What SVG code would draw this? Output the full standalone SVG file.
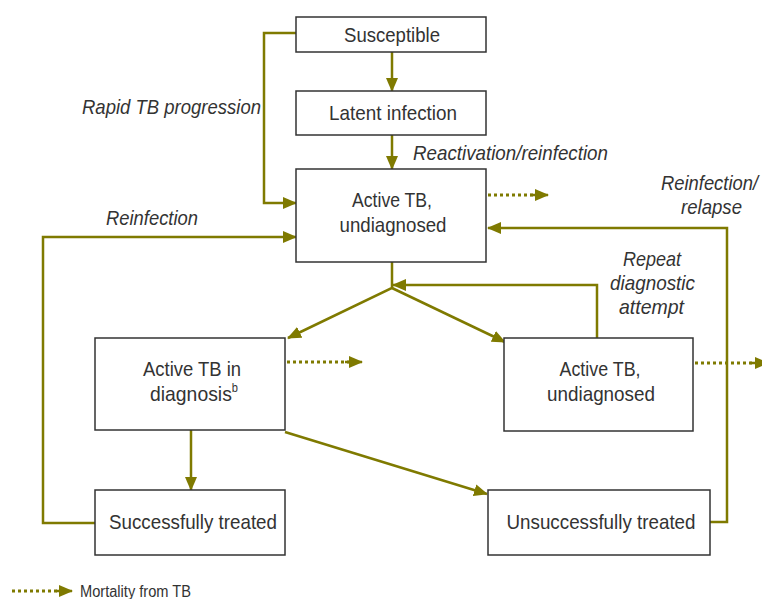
<svg xmlns="http://www.w3.org/2000/svg" width="762" height="599" viewBox="0 0 762 599">
<style>
.box{fill:#fff;stroke:#333;stroke-width:1.5}
.t{font-family:"Liberation Sans",Arial,sans-serif;font-size:21px;fill:#333;text-anchor:middle}
.lbl{font-family:"Liberation Sans",Arial,sans-serif;font-size:21px;fill:#333;font-style:italic}
.c{fill:none;stroke:#7f7a00;stroke-width:2.5}
.d{fill:none;stroke:#7f7a00;stroke-width:3;stroke-dasharray:3 3}
</style>
<defs>
<marker id="a" viewBox="0 0 14 12" refX="13" refY="6" markerWidth="14" markerHeight="12" markerUnits="userSpaceOnUse" orient="auto"><path d="M0,0 L14,6 L0,12 Z" fill="#7f7a00"/></marker>
</defs>
<g id="connectors">
<path class="c" d="M392,52 V91" marker-end="url(#a)"/>
<path class="c" d="M392,135 V169" marker-end="url(#a)"/>
<path class="c" d="M296,33 H264 V203 H296" marker-end="url(#a)"/>
<path class="c" d="M95,523 H43 V237 H296" marker-end="url(#a)"/>
<path class="c" d="M710,522 H727 V228 H488" marker-end="url(#a)"/>
<path class="d" d="M488,195 H535"/><path class="c" d="M530,195 H548" marker-end="url(#a)"/>
<path class="d" d="M287,362 H350"/><path class="c" d="M345,362 H362" marker-end="url(#a)"/>
<path class="d" d="M695,363 H755"/><path class="c" d="M750,363 H768" marker-end="url(#a)"/>
<path class="c" d="M392,262 V288 L288,338" marker-end="url(#a)"/>
<path class="c" d="M392,288 L505,342" marker-end="url(#a)"/>
<path class="c" d="M597,338 V285 H393" marker-end="url(#a)"/>
<path class="c" d="M191,430 V490" marker-end="url(#a)"/>
<path class="c" d="M285,432 L487,494" marker-end="url(#a)"/>
</g>
<g id="susceptible"><rect class="box" x="296" y="17" width="190" height="35"/><text class="t" x="392" y="42" textLength="96" lengthAdjust="spacingAndGlyphs">Susceptible</text></g>
<g id="latent"><rect class="box" x="296" y="91" width="190" height="44"/><text class="t" x="393" y="120" textLength="128" lengthAdjust="spacingAndGlyphs">Latent infection</text></g>
<g id="active-top"><rect class="box" x="296" y="169" width="190" height="93"/><text class="t" x="392" y="207" textLength="80" lengthAdjust="spacingAndGlyphs">Active TB,</text><text class="t" x="393" y="232" textLength="107" lengthAdjust="spacingAndGlyphs">undiagnosed</text></g>
<g id="active-diag"><rect class="box" x="95" y="338" width="190" height="92"/><text class="t" x="192" y="376" textLength="98" lengthAdjust="spacingAndGlyphs">Active TB in</text><text class="t" x="150" y="401" style="text-anchor:start" textLength="88" lengthAdjust="spacingAndGlyphs">diagnosis<tspan font-size="12" dy="-9">b</tspan></text></g>
<g id="active-right"><rect class="box" x="504" y="338" width="189" height="93"/><text class="t" x="600" y="376" textLength="81" lengthAdjust="spacingAndGlyphs">Active TB,</text><text class="t" x="601" y="401" textLength="108" lengthAdjust="spacingAndGlyphs">undiagnosed</text></g>
<g id="success"><rect class="box" x="95" y="490" width="190" height="65"/><text class="t" x="193" y="529" textLength="168" lengthAdjust="spacingAndGlyphs">Successfully treated</text></g>
<g id="unsuccess"><rect class="box" x="488" y="490" width="222" height="65"/><text class="t" x="601" y="529" textLength="189" lengthAdjust="spacingAndGlyphs">Unsuccessfully treated</text></g>
<g id="labels">
<text class="lbl" x="82" y="114" textLength="179" lengthAdjust="spacingAndGlyphs">Rapid TB progression</text>
<text class="lbl" x="413" y="160" textLength="195" lengthAdjust="spacingAndGlyphs">Reactivation/reinfection</text>
<text class="lbl" x="106" y="225" textLength="92" lengthAdjust="spacingAndGlyphs">Reinfection</text>
<text class="lbl" x="661" y="190" textLength="97" lengthAdjust="spacingAndGlyphs">Reinfection/</text>
<text class="lbl" x="681" y="214" textLength="61" lengthAdjust="spacingAndGlyphs">relapse</text>
<text class="lbl" x="623" y="266" textLength="58" lengthAdjust="spacingAndGlyphs">Repeat</text>
<text class="lbl" x="610" y="290" textLength="85" lengthAdjust="spacingAndGlyphs">diagnostic</text>
<text class="lbl" x="619" y="314" textLength="65" lengthAdjust="spacingAndGlyphs">attempt</text>
</g>
<g id="legend">
<path class="d" d="M12,591 H60"/><path class="c" d="M56,591 H72" marker-end="url(#a)"/>
<text x="80" y="597" textLength="111" lengthAdjust="spacingAndGlyphs" style="font-family:'Liberation Sans',Arial,sans-serif;font-size:16px;fill:#333">Mortality from TB</text>
</g>
</svg>
